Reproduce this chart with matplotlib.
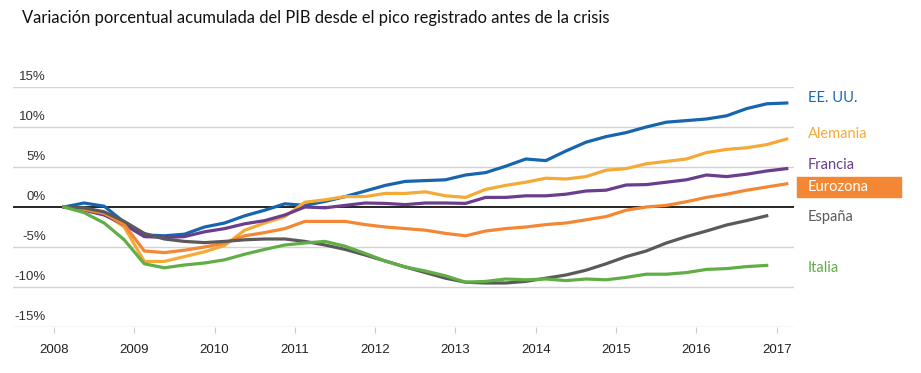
import numpy as np
import matplotlib.pyplot as plt

# acumulado % desde el pico, trimestral desde 2008T1
ee_uu = [0, 0.5, 0.1, -1.9, -3.5, -3.6, -3.4, -2.5, -2.0, -1.1, -0.4, 0.4, 0.2, 0.7,
         1.3, 2.0, 2.7, 3.2, 3.3, 3.4, 4.0, 4.3, 5.1, 6.0, 5.8, 7.0, 8.1, 8.8, 9.3,
         10.0, 10.6, 10.8, 11.0, 11.4, 12.3, 12.9, 13.0]
alemania = [0, -0.3, -0.8, -2.5, -6.8, -6.8, -6.2, -5.6, -4.8, -2.9, -2.0, -1.2, 0.6,
            0.9, 1.3, 1.3, 1.7, 1.7, 1.9, 1.4, 1.2, 2.2, 2.7, 3.1, 3.6, 3.5, 3.8, 4.6,
            4.8, 5.4, 5.7, 6.0, 6.8, 7.2, 7.4, 7.8, 8.5]
francia = [0, -0.4, -1.0, -2.2, -3.7, -3.8, -3.7, -3.1, -2.7, -2.1, -1.7, -1.0, 0.0,
           -0.1, 0.2, 0.5, 0.45, 0.3, 0.5, 0.5, 0.45, 1.2, 1.2, 1.4, 1.4, 1.6, 2.0, 2.1,
           2.75, 2.8, 3.1, 3.4, 4.0, 3.8, 4.1, 4.5, 4.8]
eurozona = [0, -0.3, -0.8, -2.2, -5.5, -5.7, -5.4, -5.0, -4.5, -3.6, -3.2, -2.7, -1.8,
            -1.8, -1.8, -2.2, -2.5, -2.7, -2.9, -3.3, -3.6, -3.0, -2.7, -2.5, -2.2,
            -2.0, -1.6, -1.2, -0.4, 0.0, 0.2, 0.66, 1.2, 1.6, 2.1, 2.5, 2.9]
espana = [0, -0.1, -0.6, -1.8, -3.3, -4.0, -4.3, -4.45, -4.3, -4.1, -4.0, -4.0, -4.3,
          -4.75, -5.3, -6.0, -6.75, -7.5, -8.2, -8.9, -9.4, -9.5, -9.5, -9.3, -8.9,
          -8.5, -7.9, -7.1, -6.2, -5.5, -4.5, -3.7, -3.0, -2.25, -1.7, -1.1]
italia = [0, -0.7, -2.0, -4.1, -7.1, -7.6, -7.25, -7.0, -6.6, -5.9, -5.3, -4.75, -4.5,
          -4.3, -4.9, -5.8, -6.75, -7.5, -8.0, -8.6, -9.4, -9.3, -9.0, -9.1, -9.0,
          -9.2, -9.0, -9.1, -8.8, -8.4, -8.4, -8.2, -7.8, -7.7, -7.45, -7.3]

series = [
    ("EE. UU.", ee_uu, "#1765ae"),
    ("Alemania", alemania, "#f5aa37"),
    ("Francia", francia, "#6a3d8d"),
    ("Eurozona", eurozona, "#f38733"),
    ("España", espana, "#5a5a5a"),
    ("Italia", italia, "#62ae46"),
]
years = list(range(2008, 2018))
yticks = [15, 10, 5, 0, -5, -10, -15]

fig = plt.figure(figsize=(9.21, 3.73), dpi=100)
ax = fig.add_axes([13/921, 1 - 327/373, 781/921, 240/373])
ax.set_xlim(2007.49, 2017.215)
ax.set_ylim(-15, 15)

for v in yticks:
    ax.axhline(v, color="black" if v == 0 else "#d3d3d3", lw=1.2 if v == 0 else 1.0,
               zorder=1 if v != 0 else 2)
    ax.annotate(f"{v}%", xy=(0, v), xycoords=("axes fraction", "data"),
                xytext=(33, 10), textcoords="offset pixels", ha="right", va="center",
                fontsize=9.5, family="Liberation Sans", color="#333333")

for name, vals, col in series:
    x = 2008.125 + 0.25 * np.arange(len(vals))
    ax.plot(x, vals, color=col, lw=2.3, solid_joinstyle="round", zorder=3)

for sp in ax.spines.values():
    sp.set_visible(False)
ax.set_yticks([])
ax.set_xticks(years)
ax.set_xticklabels([str(y) for y in years], family="Liberation Sans", fontsize=9.5,
                   color="#222222")
ax.tick_params(axis="x", length=4.5, color="#cccccc", pad=8)

# etiquetas a la derecha
label_y = {"EE. UU.": 98, "Alemania": 134, "Francia": 165, "Eurozona": 187,
           "España": 217, "Italia": 268}
for name, vals, col in series:
    yf = 1 - label_y[name] / 373
    if name == "Eurozona":
        fig.patches.append(plt.Rectangle((797/921, 1 - 197/373), 104/921, 20/373,
                                         transform=fig.transFigure, color=col))
        fig.text(808/921, yf, name, color="white", fontsize=10.5, family="Lato",
                 va="center", ha="left")
    else:
        fig.text(808/921, yf, name, color=col, fontsize=10.5, family="Lato",
                 va="center", ha="left")

fig.text(22/921, 1 - 18/373, "Variación porcentual acumulada del PIB desde el pico registrado antes de la crisis",
         fontsize=11.9, family="Lato", color="#111111", va="center", ha="left")

fig.savefig("out.png", dpi=100)
